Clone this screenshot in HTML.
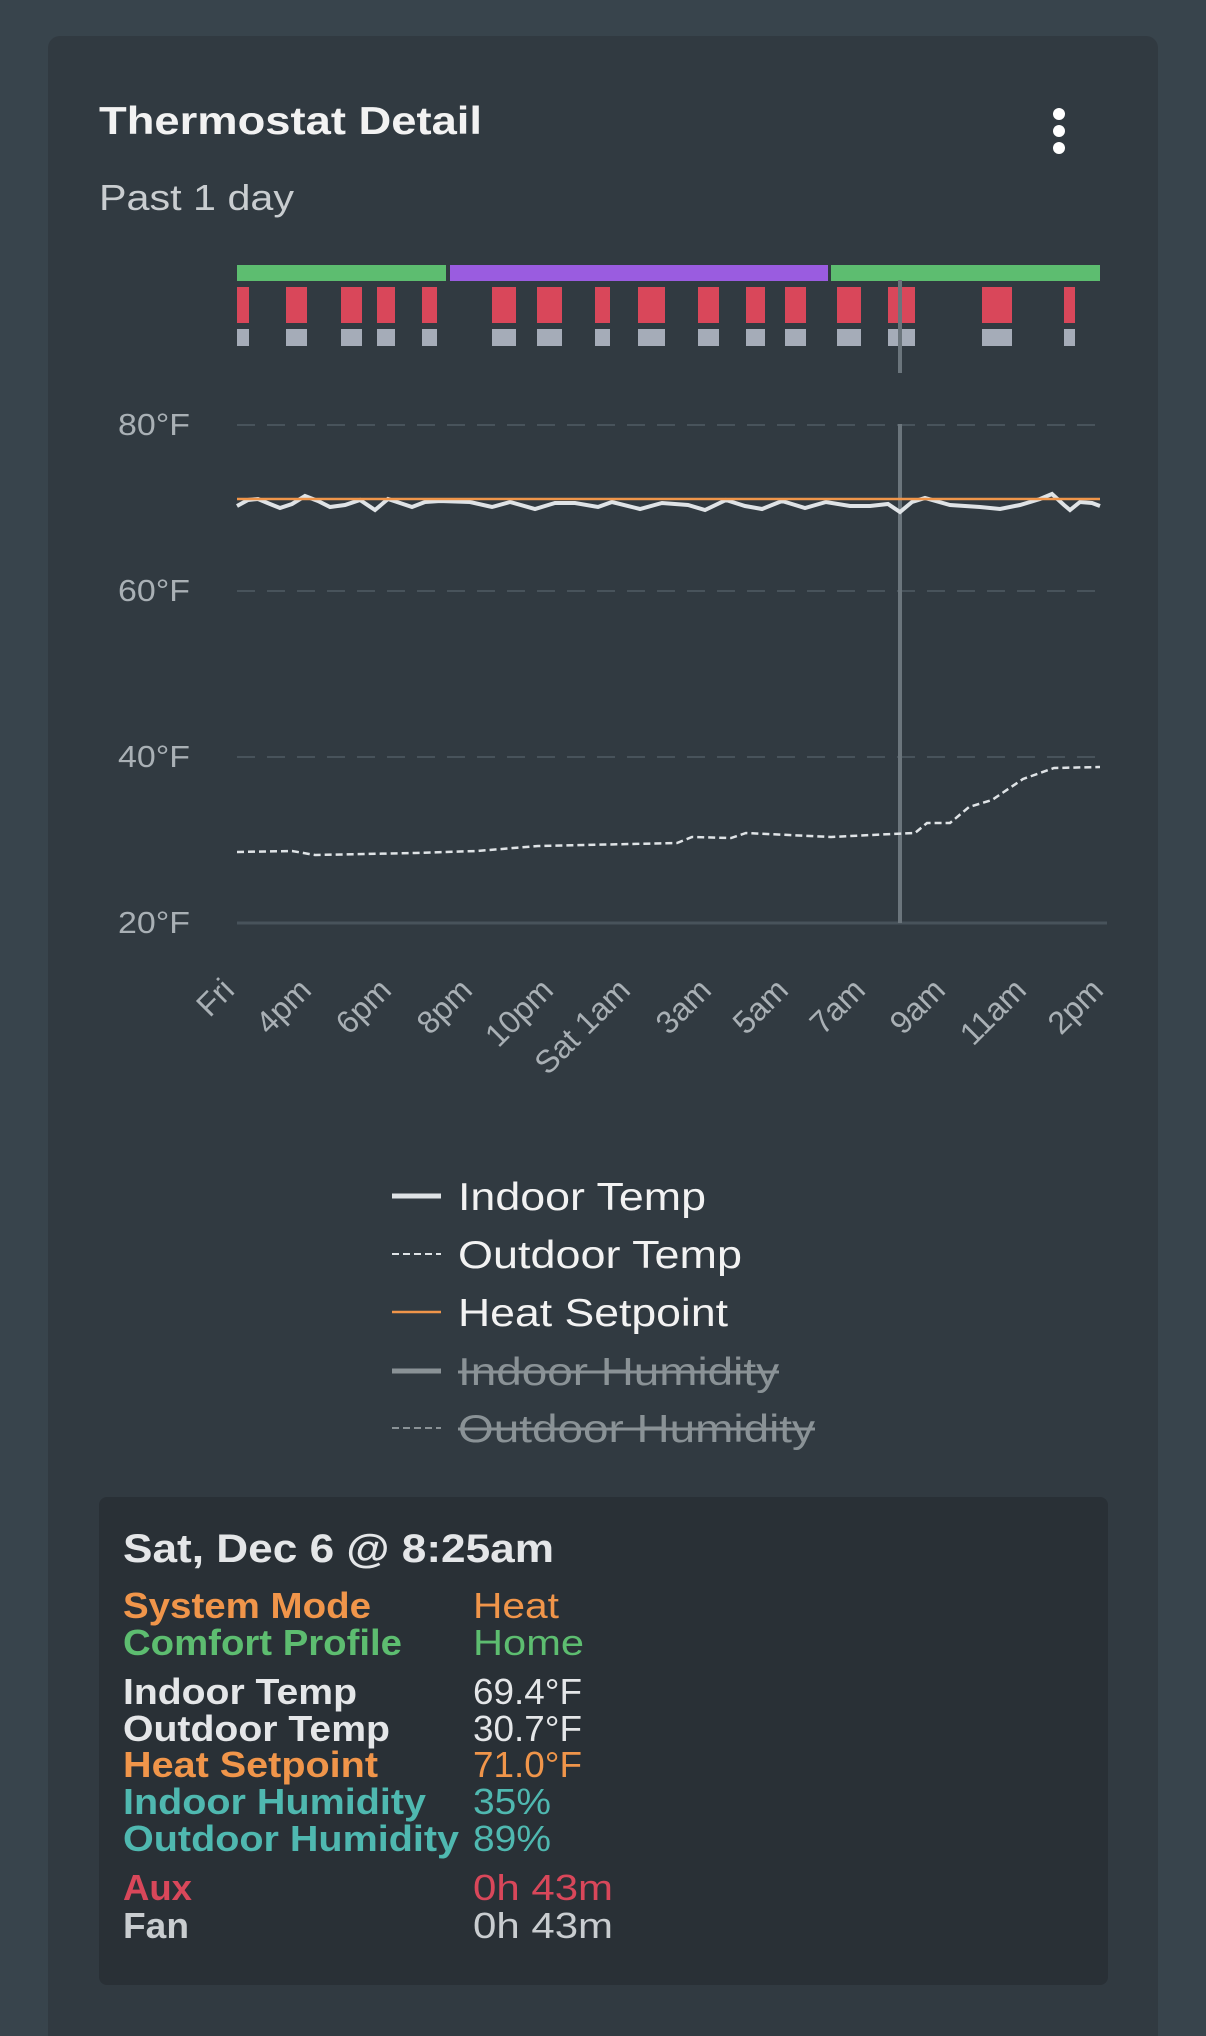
<!DOCTYPE html>
<html><head><meta charset="utf-8"><style>
html,body{margin:0;padding:0;background:#38444c;width:1206px;height:2016px;overflow:hidden;font-family:"Liberation Sans",sans-serif}
.card{position:absolute;left:48px;top:36px;width:1110px;height:2000px;background:#313a41;border-radius:12px 12px 0 0}
svg{position:absolute;left:0;top:0}
</style></head><body>
<div class="card"></div>
<svg width="1206" height="2016" viewBox="0 0 1206 2016" font-family="Liberation Sans, sans-serif">
<text x="99" y="134" font-size="39" font-weight="bold" fill="#f2f2f2" textLength="383" lengthAdjust="spacingAndGlyphs">Thermostat Detail</text>
<text x="99" y="210" font-size="36" fill="#c9cdd0" textLength="195" lengthAdjust="spacingAndGlyphs">Past 1 day</text>
<circle cx="1059" cy="114" r="6" fill="#fff"/><circle cx="1059" cy="131" r="6" fill="#fff"/><circle cx="1059" cy="148" r="6" fill="#fff"/>
<rect x="237" y="265" width="209" height="16" fill="#5dbd70"/>
<rect x="450" y="265" width="378" height="16" fill="#9a5ce0"/>
<rect x="831" y="265" width="269" height="16" fill="#5dbd70"/>
<g fill="#d9475a">
<rect x="237" y="287" width="12" height="36"/><rect x="286" y="287" width="21" height="36"/><rect x="341" y="287" width="21" height="36"/><rect x="377" y="287" width="18" height="36"/><rect x="422" y="287" width="15" height="36"/><rect x="492" y="287" width="24" height="36"/><rect x="537" y="287" width="25" height="36"/><rect x="595" y="287" width="15" height="36"/><rect x="638" y="287" width="27" height="36"/><rect x="698" y="287" width="21" height="36"/><rect x="746" y="287" width="19" height="36"/><rect x="785" y="287" width="21" height="36"/><rect x="837" y="287" width="24" height="36"/><rect x="888" y="287" width="27" height="36"/><rect x="982" y="287" width="30" height="36"/><rect x="1064" y="287" width="11" height="36"/>
</g>
<g fill="#a5acb8">
<rect x="237" y="329" width="12" height="17"/><rect x="286" y="329" width="21" height="17"/><rect x="341" y="329" width="21" height="17"/><rect x="377" y="329" width="18" height="17"/><rect x="422" y="329" width="15" height="17"/><rect x="492" y="329" width="24" height="17"/><rect x="537" y="329" width="25" height="17"/><rect x="595" y="329" width="15" height="17"/><rect x="638" y="329" width="27" height="17"/><rect x="698" y="329" width="21" height="17"/><rect x="746" y="329" width="19" height="17"/><rect x="785" y="329" width="21" height="17"/><rect x="837" y="329" width="24" height="17"/><rect x="888" y="329" width="27" height="17"/><rect x="982" y="329" width="30" height="17"/><rect x="1064" y="329" width="11" height="17"/>
</g>
<g stroke="#48535b" stroke-width="2" stroke-dasharray="18,12">
<line x1="237" y1="425" x2="1105" y2="425"/><line x1="237" y1="591" x2="1105" y2="591"/><line x1="237" y1="757" x2="1105" y2="757"/>
</g>
<line x1="237" y1="923" x2="1107" y2="923" stroke="#48535b" stroke-width="3"/>
<g font-size="31" fill="#a9b0b5" text-anchor="end">
<text x="190" y="435" textLength="72" lengthAdjust="spacingAndGlyphs">80°F</text><text x="190" y="601" textLength="72" lengthAdjust="spacingAndGlyphs">60°F</text><text x="190" y="767" textLength="72" lengthAdjust="spacingAndGlyphs">40°F</text><text x="190" y="933" textLength="72" lengthAdjust="spacingAndGlyphs">20°F</text>
</g>
<line x1="900" y1="280" x2="900" y2="373" stroke="#6b757c" stroke-width="4"/>
<line x1="900" y1="424" x2="900" y2="923" stroke="#6b757c" stroke-width="4"/>
<polyline fill="none" stroke="#dfe3e6" stroke-width="2.5" stroke-dasharray="7,4" points="237,852 292,851 315,855 415,853 477,851 538,846 677,843 692,837 731,838 746,833 831,837 892,834 915,833 927,823 950,823 969,807 992,800 1023,779 1054,768 1100,767"/>
<polyline fill="none" stroke="#dfe3e6" stroke-width="4" points="237,506 248,500 258,499 270,504 280,508 292,504 305,496 318,501 330,507 345,505 360,500 375,510 388,499 400,503 412,507 425,502 440,501 470,502 492,507 510,502 535,509 555,503 575,503 598,507 612,502 640,509 662,503 688,505 705,510 726,500 745,506 762,509 782,501 805,508 826,502 850,506 870,506 888,504 900,512 912,502 925,498 950,505 980,507 1000,509 1020,505 1040,499 1052,494 1064,505 1070,510 1080,502 1092,503 1100,506"/>
<line x1="237" y1="499" x2="1100" y2="499" stroke="#f0954a" stroke-width="2.5"/>
<g font-size="32" fill="#a9b0b5" text-anchor="end">
<text transform="translate(236,992) rotate(-45)">Fri</text>
<text transform="translate(313,992) rotate(-45)">4pm</text>
<text transform="translate(393,992) rotate(-45)">6pm</text>
<text transform="translate(474,992) rotate(-45)">8pm</text>
<text transform="translate(555,992) rotate(-45)">10pm</text>
<text transform="translate(632,992) rotate(-45)">Sat 1am</text>
<text transform="translate(713,992) rotate(-45)">3am</text>
<text transform="translate(790,992) rotate(-45)">5am</text>
<text transform="translate(867,992) rotate(-45)">7am</text>
<text transform="translate(947,992) rotate(-45)">9am</text>
<text transform="translate(1028,992) rotate(-45)">11am</text>
<text transform="translate(1105,992) rotate(-45)">2pm</text>
</g>
<g font-size="39">
<line x1="392" y1="1196" x2="441" y2="1196" stroke="#dfe3e6" stroke-width="5"/>
<text x="458" y="1210" fill="#f2f2f2" textLength="248" lengthAdjust="spacingAndGlyphs">Indoor Temp</text>
<line x1="392" y1="1254" x2="441" y2="1254" stroke="#dfe3e6" stroke-width="2" stroke-dasharray="7,4"/>
<text x="458" y="1268" fill="#f2f2f2" textLength="284" lengthAdjust="spacingAndGlyphs">Outdoor Temp</text>
<line x1="392" y1="1312" x2="441" y2="1312" stroke="#f0954a" stroke-width="2.5"/>
<text x="458" y="1326" fill="#f2f2f2" textLength="270" lengthAdjust="spacingAndGlyphs">Heat Setpoint</text>
<line x1="392" y1="1371" x2="441" y2="1371" stroke="#8a9296" stroke-width="5"/>
<text x="458" y="1385" fill="#8a9296" textLength="321" lengthAdjust="spacingAndGlyphs">Indoor Humidity</text>
<line x1="458" y1="1372" x2="779" y2="1372" stroke="#8a9296" stroke-width="3"/>
<line x1="392" y1="1428" x2="441" y2="1428" stroke="#8a9296" stroke-width="2" stroke-dasharray="7,4"/>
<text x="458" y="1442" fill="#8a9296" textLength="357" lengthAdjust="spacingAndGlyphs">Outdoor Humidity</text>
<line x1="458" y1="1429" x2="815" y2="1429" stroke="#8a9296" stroke-width="3"/>
</g>
<rect x="99" y="1497" width="1009" height="488" rx="8" fill="#293036"/>
<text x="123" y="1562" font-size="40" font-weight="bold" fill="#e4e6e8" textLength="431" lengthAdjust="spacingAndGlyphs">Sat, Dec 6 @ 8:25am</text>
<g font-size="36" font-weight="bold" lengthAdjust="spacingAndGlyphs">
<text x="123" y="1618" fill="#f0954a" textLength="248" lengthAdjust="spacingAndGlyphs">System Mode</text>
<text x="123" y="1655" fill="#5dbd70" textLength="279" lengthAdjust="spacingAndGlyphs">Comfort Profile</text>
<text x="123" y="1704" fill="#e4e6e8" textLength="234" lengthAdjust="spacingAndGlyphs">Indoor Temp</text>
<text x="123" y="1741" fill="#e4e6e8" textLength="267" lengthAdjust="spacingAndGlyphs">Outdoor Temp</text>
<text x="123" y="1777" fill="#f0954a" textLength="255" lengthAdjust="spacingAndGlyphs">Heat Setpoint</text>
<text x="123" y="1814" fill="#4fb8b0" textLength="303" lengthAdjust="spacingAndGlyphs">Indoor Humidity</text>
<text x="123" y="1851" fill="#4fb8b0" textLength="336" lengthAdjust="spacingAndGlyphs">Outdoor Humidity</text>
<text x="123" y="1900" fill="#d9475a" textLength="69" lengthAdjust="spacingAndGlyphs">Aux</text>
<text x="123" y="1938" fill="#c9cdd0" textLength="66" lengthAdjust="spacingAndGlyphs">Fan</text>
</g>
<g font-size="36">
<text x="473" y="1618" fill="#f0954a" textLength="86" lengthAdjust="spacingAndGlyphs">Heat</text>
<text x="473" y="1655" fill="#5dbd70" textLength="111" lengthAdjust="spacingAndGlyphs">Home</text>
<text x="473" y="1704" fill="#e4e6e8" textLength="109" lengthAdjust="spacingAndGlyphs">69.4°F</text>
<text x="473" y="1741" fill="#e4e6e8" textLength="109" lengthAdjust="spacingAndGlyphs">30.7°F</text>
<text x="473" y="1777" fill="#f0954a" textLength="109" lengthAdjust="spacingAndGlyphs">71.0°F</text>
<text x="473" y="1814" fill="#4fb8b0" textLength="78" lengthAdjust="spacingAndGlyphs">35%</text>
<text x="473" y="1851" fill="#4fb8b0" textLength="78" lengthAdjust="spacingAndGlyphs">89%</text>
<text x="473" y="1900" fill="#d9475a" textLength="140" lengthAdjust="spacingAndGlyphs">0h 43m</text>
<text x="473" y="1938" fill="#c9cdd0" textLength="140" lengthAdjust="spacingAndGlyphs">0h 43m</text>
</g>
</svg>
</body></html>
